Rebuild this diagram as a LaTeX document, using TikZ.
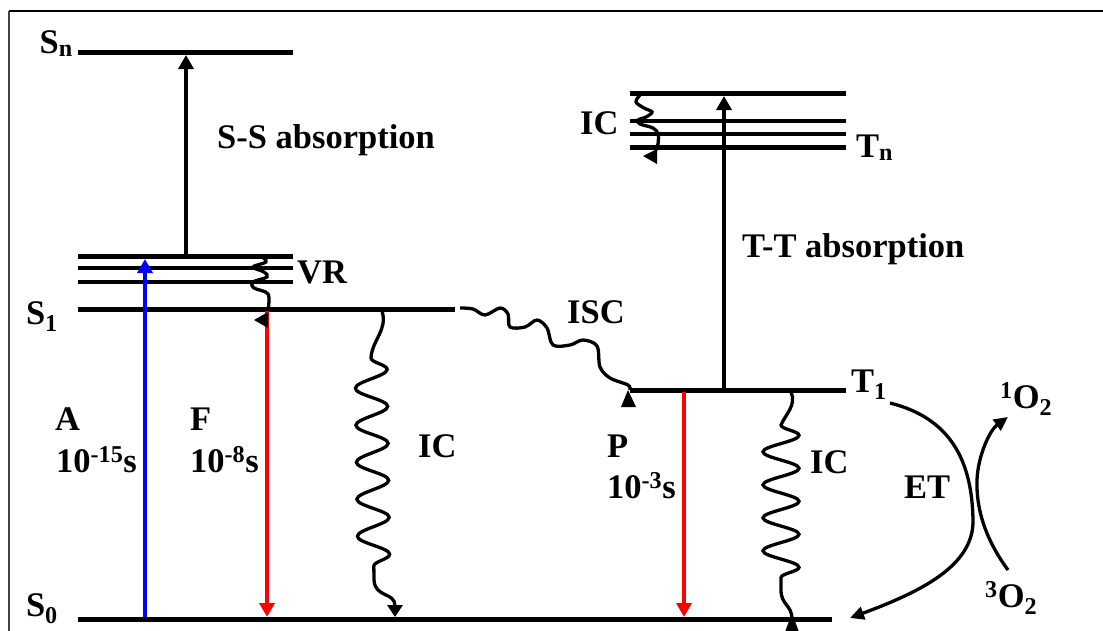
\documentclass[tikz,border=0pt]{standalone}
\usepackage{fontspec}
\setmainfont{Liberation Serif}
\usetikzlibrary{arrows.meta,decorations.pathmorphing}
\begin{document}
\begin{tikzpicture}[x=1pt,y=-1pt,
  level/.style={line width=5pt},
  vib/.style={line width=4pt},
  lbl/.style={font=\fontsize{34.5}{40}\selectfont\bfseries, inner sep=0pt, anchor=base west},
  trans/.style={line width=4.5pt,-{Triangle[length=14pt,width=15pt]}},
  wav/.style={line width=3.3pt},
  tipmark/.style={fill=black},
  wavesnake/.style={decoration={snake, amplitude=#1, segment length=37pt}}
]
\useasboundingbox (0,0) rectangle (1103,630);
\fill[white] (0,0) rectangle (1103,630);
% frame
\coordinate (fBL) at (9,632);
\coordinate (fTL) at (9,11);
\coordinate (fTR) at (1104,11);
\draw[line width=1.3pt, black!75] (fBL) -- (fTL);
\draw[line width=2pt] (fTL) -- (fTR);

% ---------- levels ----------
\coordinate (SnL) at (78,52);   \coordinate (SnR) at (293,52);
\coordinate (V3L) at (78,256);  \coordinate (V3R) at (293,256);
\coordinate (V2L) at (78,268);  \coordinate (V2R) at (293,268);
\coordinate (V1L) at (78,282);  \coordinate (V1R) at (293,282);
\coordinate (S1L) at (78,309);  \coordinate (S1R) at (455,309);
\coordinate (S0L) at (78,619);  \coordinate (S0R) at (832,619);
\coordinate (TnL) at (630,93);  \coordinate (TnR) at (846,93);
\coordinate (U2L) at (630,121); \coordinate (U2R) at (846,121);
\coordinate (U1L) at (630,134); \coordinate (U1R) at (846,134);
\coordinate (U0L) at (630,147); \coordinate (U0R) at (846,147);
\coordinate (T1L) at (630,390); \coordinate (T1R) at (846,390);

\draw[level] (SnL) -- (SnR);
\draw[level] (V3L) -- (V3R);
\draw[vib] (V2L) -- (V2R);
\draw[vib] (V1L) -- (V1R);
\draw[level] (S1L) -- (S1R);
\draw[level] (S0L) -- (S0R);
\draw[level] (TnL) -- (TnR);
\draw[vib] (U2L) -- (U2R);
\draw[vib] (U1L) -- (U1R);
\draw[level] (U0L) -- (U0R);
\draw[level] (T1L) -- (T1R);

% ---------- straight transitions ----------
\coordinate (ssA) at (186,254); \coordinate (ssB) at (186,55);
\coordinate (ttA) at (724,388); \coordinate (ttB) at (724,96);
\coordinate (abA) at (145,617); \coordinate (abB) at (145,259);
\coordinate (flA) at (267,311); \coordinate (flB) at (267,617);
\coordinate (phA) at (684,392); \coordinate (phB) at (684,617);
\draw[trans] (ssA) -- (ssB);
\draw[trans] (ttA) -- (ttB);
\draw[trans, blue] (abA) -- (abB);
\draw[trans, red] (flA) -- (flB);
\draw[trans, red] (phA) -- (phB);

% ---------- wavy transitions ----------
% VR
\draw[wav] plot[smooth, tension=0.6] coordinates {(262,257) (266,262) (253,267) (264,272) (267,277) (253,282) (254,288) (268,294) (268,310)};
\fill[tipmark] (254,320) -- (268,312) -- (268,328) -- cycle;
% IC in Tn
\draw[wav] plot[smooth, tension=0.6] coordinates {(640,95) (636,102) (644,108) (652,112) (646,117) (638,120) (640,124) (653,128) (658,134) (658,144) (656,150)};
\fill[tipmark] (643,156) -- (657,149) -- (657,164) -- cycle;
% IC S1 -> S0
\coordinate (ic1A) at (382,311);
\coordinate (ic1B) at (395,617);
\draw[wav, -{Triangle[length=12pt,width=15pt]}] (ic1A) .. controls (388,330) and (372,340) .. (371,358)
  decorate[wavesnake=16pt] {-- (374,580)} .. controls (375,598) and (395,592) .. (ic1B);
% ISC
\draw[wav] plot[smooth, tension=0.55] coordinates {(460,308) (473,309) (485,315) (500,308) (508,314) (510,327) (525,327) (537,320) (547,328) (553,345) (570,345) (583,340) (597,346) (600,367) (610,378) (628,385) (630,390)};
\fill[tipmark] (628,390) -- (621,407) -- (636,407) -- cycle;
% IC T1 -> S0
\coordinate (ic2A) at (791,392);
\coordinate (ic2B) at (792,619);
\draw[wav] (ic2A) .. controls (797,405) and (785,415) .. (781,425)
  decorate[decoration={snake, amplitude=18pt, segment length=33pt}] {-- (781,590)} .. controls (781,605) and (792,605) .. (ic2B);
\fill[tipmark] (792,613) -- (785,632) -- (799,632) -- cycle;

% ---------- energy transfer ----------
\coordinate (etA) at (890,403);
\coordinate (etM) at (973,520);
\coordinate (etB) at (850,618);
\draw[wav, -{Triangle[length=14pt,width=13pt]}] (etA) .. controls (950,418) and (972,460) .. (etM)
  .. controls (974,566) and (920,592) .. (etB);
\coordinate (oxA) at (1008,570);
\coordinate (oxM) at (977,480);
\coordinate (oxB) at (1008,417);
\draw[wav, -{Triangle[length=14pt,width=13pt]}] (oxA) .. controls (986,540) and (976,510) .. (oxM)
  .. controls (978,455) and (990,430) .. (oxB);

% ---------- labels ----------
\node[lbl, anchor=base east] (lSn) at (73,53) {S\textsubscript{n}};
\node[lbl, anchor=base east] (lS1) at (58,324) {S\textsubscript{1}};
\node[lbl, anchor=base east] (lS0) at (58,616) {S\textsubscript{0}};
\node[lbl] (lVR) at (297,283) {VR};
\node[lbl] (lSS) at (217,148) {S-S absorption};
\node[lbl] (lA) at (55,430) {A};
\node[lbl] (lAt) at (56,472) {10\textsuperscript{-15}s};
\node[lbl] (lF) at (190,430) {F};
\node[lbl] (lFt) at (190,472) {10\textsuperscript{-8}s};
\node[lbl] (lIC1) at (418,457) {IC};
\node[lbl] (lISC) at (567,323) {ISC};
\node[lbl] (lICn) at (580,134) {IC};
\node[lbl] (lTn) at (856,157) {T\textsubscript{n}};
\node[lbl] (lTT) at (742,257) {T-T absorption};
\node[lbl] (lT1) at (851,392) {T\textsubscript{1}};
\node[lbl] (lP) at (607,457) {P};
\node[lbl] (lPt) at (607,498) {10\textsuperscript{-3}s};
\node[lbl] (lIC2) at (810,473) {IC};
\node[lbl] (lET) at (904,498) {ET};
\node[lbl] (l1O) at (1000,408) {\textsuperscript{1}O\textsubscript{2}};
\node[lbl] (l3O) at (985,607) {\textsuperscript{3}O\textsubscript{2}};
\end{tikzpicture}
\end{document}
